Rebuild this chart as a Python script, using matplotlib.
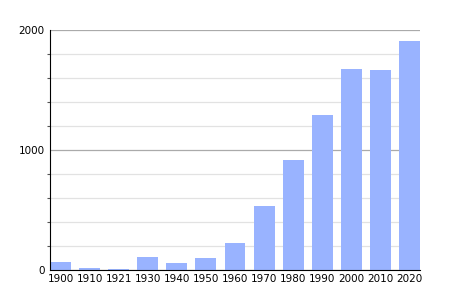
import numpy as np
import matplotlib.pyplot as plt

# Dane
lata = ['1900', '1910', '1921', '1930', '1940', '1950', '1960',
        '1970', '1980', '1990', '2000', '2010', '2020']
ludnosc = [65, 17, 8, 108, 58, 100, 228, 536, 917, 1292, 1675, 1667, 1908]

kolor = '#99b3ff'
szer = 0.72

fig = plt.figure(figsize=(4.5, 3), dpi=100)
ax = fig.add_axes([50 / 450, 30 / 300, 370 / 450, 240 / 300])

x = np.arange(len(lata))
ax.bar(x, ludnosc, width=szer, color=kolor, zorder=3)

ax.set_xlim(-szer / 2, len(lata) - 1 + szer / 2)
ax.set_ylim(0, 2000)

# Siatka
ax.set_yticks([0, 1000, 2000])
ax.set_yticks(np.arange(200, 2000, 200), minor=True)
ax.yaxis.grid(True, which='major', color='#aaaaaa', linewidth=0.9, zorder=1)
ax.yaxis.grid(True, which='minor', color='#e2e2e2', linewidth=0.9, zorder=1)

ax.set_xticks(x)
ax.set_xticklabels(lata)
ax.tick_params(axis='x', length=0, pad=3, labelsize=7.5)
ax.tick_params(axis='y', which='major', length=0, pad=4, labelsize=7.5)
ax.tick_params(axis='y', which='minor', length=2.5, width=0.8, color='#555555')

for s in ['top', 'right']:
    ax.spines[s].set_visible(False)
ax.spines['left'].set_color('black')
ax.spines['bottom'].set_color('black')
ax.spines['left'].set_zorder(4)
ax.spines['bottom'].set_zorder(4)

fig.savefig('out.png', dpi=100)
